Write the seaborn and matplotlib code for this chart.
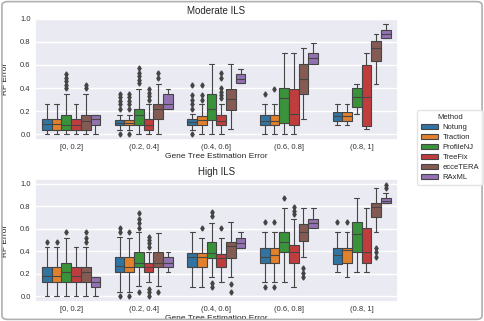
import numpy as np
import pandas as pd
import matplotlib
matplotlib.use("Agg")
import matplotlib.pyplot as plt
from matplotlib.patches import FancyBboxPatch
import seaborn as sns

BINS = ["[0, 0.2]", "(0.2, 0.4]", "(0.4, 0.6]", "(0.6, 0.8]", "(0.8, 1]"]
METHODS = ["Notung", "Traction", "ProfileNJ", "TreeFix", "ecceTERA", "RAxML"]
YTICKS = [0.0, 0.2, 0.4, 0.6, 0.8, 1.0]

# ---- Moderate ILS (rows = methods, cols = bins) ----
MOD_LO = [[0.00, 0.04, 0.04, 0.00, 0.08],
          [0.00, 0.04, 0.00, 0.00, 0.08],
          [0.00, 0.00, 0.00, 0.00, 0.18],
          [0.00, 0.00, 0.00, 0.00, 0.045],
          [0.00, 0.00, 0.043, 0.13, 0.436],
          [0.00, 0.217, 0.44, 0.61, 0.83]]
MOD_Q1 = [[0.04, 0.08, 0.08, 0.08, 0.12],
          [0.04, 0.08, 0.08, 0.08, 0.12],
          [0.04, 0.08, 0.126, 0.10, 0.236],
          [0.04, 0.037, 0.08, 0.082, 0.074],
          [0.04, 0.13, 0.214, 0.35, 0.63],
          [0.08, 0.217, 0.44, 0.61, 0.83]]
MOD_MED = [[0.09, 0.10, 0.11, 0.12, 0.155],
           [0.09, 0.10, 0.125, 0.12, 0.155],
           [0.08, 0.17, 0.22, 0.31, 0.327],
           [0.08, 0.08, 0.12, 0.18, 0.327],
           [0.12, 0.22, 0.306, 0.48, 0.744],
           [0.13, 0.26, 0.477, 0.657, 0.863]]
MOD_Q3 = [[0.13, 0.126, 0.13, 0.17, 0.195],
          [0.13, 0.126, 0.16, 0.17, 0.195],
          [0.17, 0.22, 0.35, 0.40, 0.40],
          [0.13, 0.13, 0.17, 0.39, 0.60],
          [0.17, 0.263, 0.39, 0.607, 0.806],
          [0.17, 0.35, 0.525, 0.70, 0.90]]
MOD_HI = [[0.26, 0.17, 0.177, 0.26, 0.265],
          [0.26, 0.17, 0.26, 0.26, 0.265],
          [0.35, 0.39, 0.61, 0.70, 0.436],
          [0.26, 0.26, 0.26, 0.70, 0.70],
          [0.35, 0.434, 0.61, 0.746, 0.87],
          [0.17, 0.39, 0.566, 0.786, 0.957]]
MOD_OUT = [[[], [0.0, 0.22, 0.26, 0.29, 0.32, 0.35], [0.0, 0.22, 0.26, 0.30, 0.34, 0.43], [0.35], []],
           [[], [0.0, 0.22, 0.26, 0.29, 0.32, 0.35], [0.30, 0.34, 0.43], [0.39], []],
           [[0.40, 0.43, 0.46, 0.49, 0.52], [0.44, 0.47, 0.50, 0.53, 0.57], [], [], []],
           [[], [0.30, 0.33, 0.36, 0.39], [0.31, 0.34, 0.37, 0.40, 0.49, 0.53], [], []],
           [[0.40, 0.43], [0.49, 0.53], [], [], []],
           [[], [], [], [], []]]

# ---- High ILS ----
HIGH_LO = [[0.00, 0.04, 0.085, 0.128, 0.215],
           [0.00, 0.04, 0.085, 0.128, 0.17],
           [0.00, 0.09, 0.17, 0.128, 0.215],
           [0.00, 0.125, 0.13, 0.084, 0.215],
           [0.00, 0.09, 0.17, 0.35, 0.57],
           [0.00, 0.215, 0.43, 0.61, 0.83]]
HIGH_Q1 = [[0.125, 0.215, 0.26, 0.30, 0.29],
           [0.125, 0.215, 0.26, 0.30, 0.30],
           [0.13, 0.26, 0.34, 0.39, 0.39],
           [0.125, 0.215, 0.257, 0.30, 0.30],
           [0.125, 0.26, 0.34, 0.49, 0.70],
           [0.084, 0.26, 0.43, 0.61, 0.83]]
HIGH_MED = [[0.18, 0.27, 0.35, 0.35, 0.37],
            [0.18, 0.26, 0.35, 0.37, 0.415],
            [0.22, 0.30, 0.385, 0.48, 0.55],
            [0.18, 0.257, 0.34, 0.39, 0.39],
            [0.22, 0.30, 0.445, 0.57, 0.79],
            [0.13, 0.30, 0.475, 0.655, 0.85]]
HIGH_Q3 = [[0.26, 0.35, 0.385, 0.43, 0.43],
           [0.26, 0.35, 0.385, 0.43, 0.43],
           [0.30, 0.39, 0.48, 0.57, 0.66],
           [0.26, 0.30, 0.38, 0.46, 0.61],
           [0.26, 0.39, 0.48, 0.64, 0.83],
           [0.176, 0.35, 0.52, 0.69, 0.87]]
HIGH_HI = [[0.436, 0.525, 0.57, 0.57, 0.57],
           [0.436, 0.52, 0.52, 0.57, 0.57],
           [0.52, 0.57, 0.65, 0.78, 0.87],
           [0.436, 0.39, 0.52, 0.69, 0.78],
           [0.436, 0.565, 0.66, 0.78, 0.96],
           [0.176, 0.39, 0.57, 0.78, 0.92]]
HIGH_OUT = [[[0.48], [0.0, 0.57, 0.61], [], [0.084, 0.66], [0.66]],
            [[0.48], [0.0, 0.57], [0.61], [0.084, 0.66], [0.66]],
            [[0.57], [0.04, 0.61, 0.65, 0.69, 0.74], [0.08, 0.12, 0.71, 0.75], [0.87], []],
            [[], [0.0, 0.04, 0.07, 0.44, 0.47, 0.50, 0.53], [0.61], [0.73, 0.76, 0.79], []],
            [[0.48, 0.52, 0.567], [0.04], [0.04, 0.11], [0.17, 0.21, 0.25], [0.35, 0.39, 0.43]],
            [[], [], [], [], [0.96, 0.99]]]

COLORS = ["#1f77b4", "#ff7f0e", "#2ca02c", "#d62728", "#8c564b", "#9467bd"]


def build_frame(lo, q1, med, q3, hi, out, m=40):
    rows = []
    for i, meth in enumerate(METHODS):
        for j, b in enumerate(BINS):
            o = out[i][j]
            vals = ([v for v in o if v < med[i][j]] + [lo[i][j]] +
                    [q1[i][j]] * m + [med[i][j]] * m + [q3[i][j]] * m +
                    [hi[i][j]] + [v for v in o if v > med[i][j]])
            rows += [(b, meth, v) for v in vals]
    return pd.DataFrame(rows, columns=["bin", "Method", "RF"])


df_mod = build_frame(MOD_LO, MOD_Q1, MOD_MED, MOD_Q3, MOD_HI, MOD_OUT)
df_high = build_frame(HIGH_LO, HIGH_Q1, HIGH_MED, HIGH_Q3, HIGH_HI, HIGH_OUT)

sns.set_theme(style="darkgrid")
plt.rcParams["font.family"] = ["Liberation Sans", "DejaVu Sans"]

fig = plt.figure(figsize=(4.84, 3.21), dpi=100)
ax1 = fig.add_axes([0.072, 0.564, 0.750, 0.380])
ax2 = fig.add_axes([0.072, 0.059, 0.750, 0.383])

lc = "#454545"
flier = dict(marker="d", markersize=2.6, markerfacecolor=lc, markeredgecolor=lc)
for ax, df, title in [(ax1, df_mod, "Moderate ILS"), (ax2, df_high, "High ILS")]:
    sns.boxplot(data=df, x="bin", y="RF", hue="Method", order=BINS,
                hue_order=METHODS, palette=COLORS, ax=ax, linewidth=0.8,
                linecolor=lc, flierprops=flier, width=0.8, gap=0)
    ax.set_title(title, fontsize=7, pad=3)
    ax.set_xlabel("Gene Tree Estimation Error", fontsize=6, labelpad=1)
    ax.set_ylabel("RF Error", fontsize=6)
    ax.yaxis.set_label_coords(-0.07, 0.5)
    ax.set_yticks(YTICKS)
    ax.set_yticklabels([f"{t:.1f}" for t in YTICKS])
    ax.tick_params(axis="both", labelsize=5.5, pad=3, length=0, colors="#333333")

handles, labels = ax1.get_legend_handles_labels()
ax1.get_legend().remove()
ax2.get_legend().remove()
leg = fig.legend(handles, labels, title="Method", loc="upper left",
                 bbox_to_anchor=(0.862, 0.657), borderaxespad=0,
                 fontsize=5.5, title_fontsize=5.5,
                 frameon=True, handlelength=2.2, handleheight=0.7,
                 labelspacing=0.35, borderpad=0.5, handletextpad=0.6)
leg.get_frame().set_edgecolor("#dddddd")
leg.get_frame().set_facecolor("white")

fig.patches.append(FancyBboxPatch((0.004, 0.005), 0.992, 0.99,
                                  boxstyle="round,pad=0,rounding_size=0.012",
                                  transform=fig.transFigure, fill=False,
                                  ec="#b0b0b0", lw=1.2))

fig.savefig("out.png", dpi=100)
